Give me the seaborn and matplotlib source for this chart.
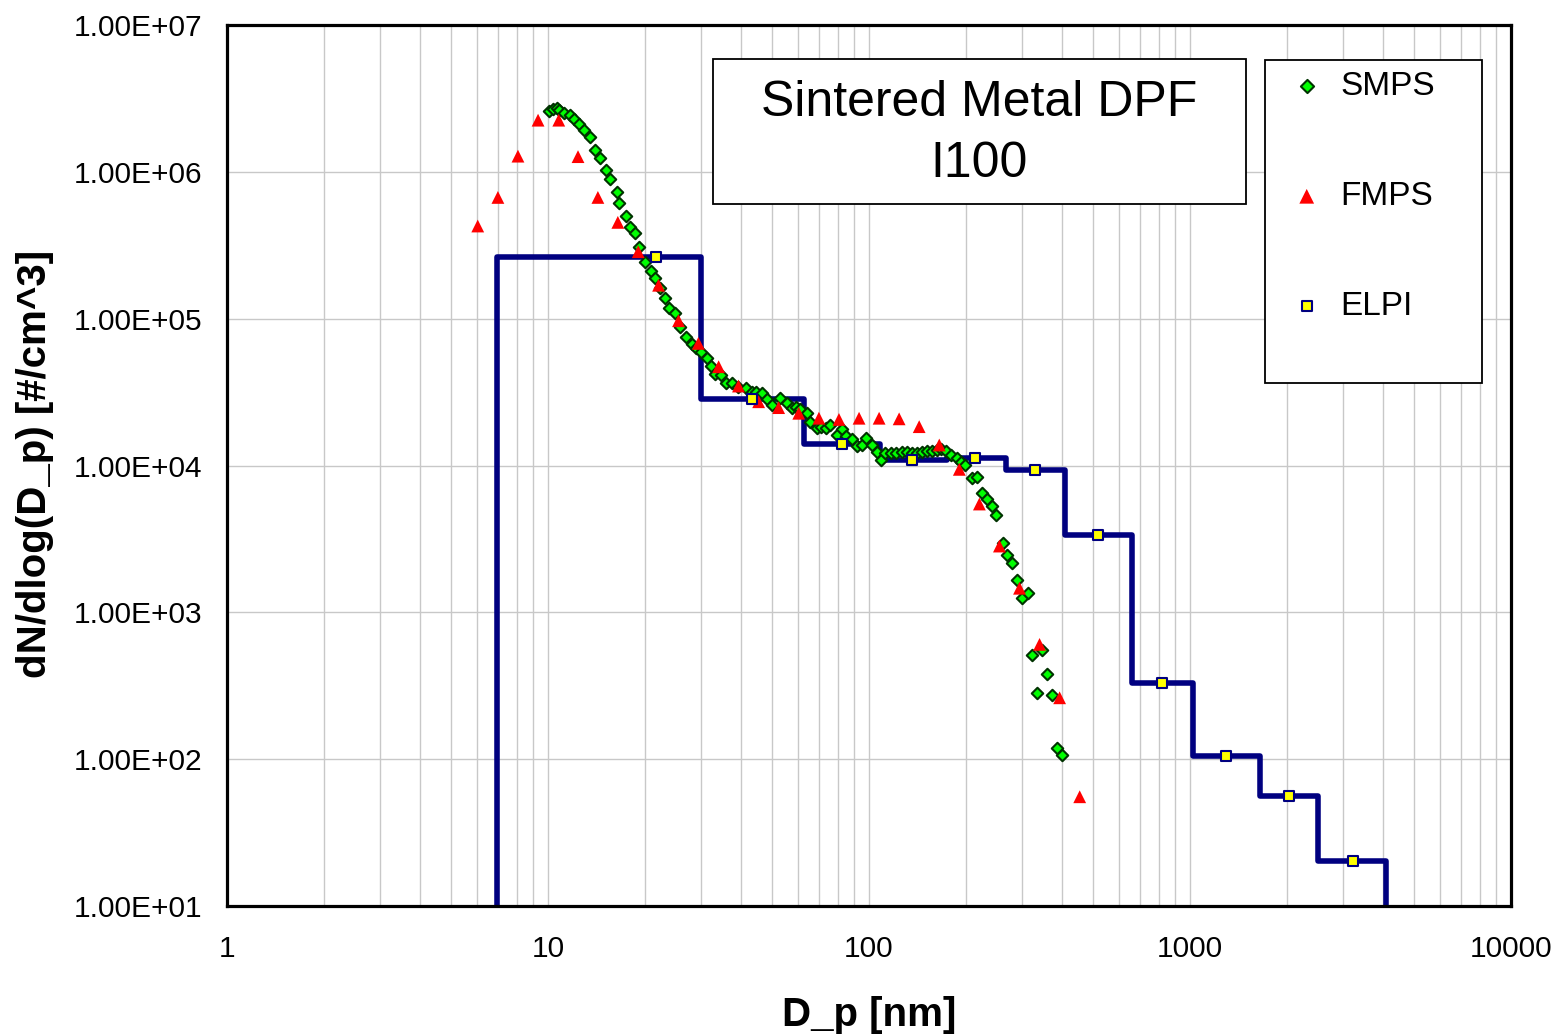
import numpy as np
import pandas as pd
import seaborn as sns
import matplotlib.pyplot as plt
from matplotlib.patches import Rectangle
from matplotlib.ticker import FixedLocator, FuncFormatter, NullFormatter

# SMPS scan (diameter nm, dN/dlogDp)
smps_dp = [10.09, 10.39, 10.64, 10.84, 11.21, 11.71, 12.08, 12.49, 12.98, 13.51,
           14.01, 14.52, 15.13, 15.60, 16.37, 16.64, 17.50, 18.01, 18.71, 19.25,
           20.05, 20.89, 21.54, 22.33, 23.14, 23.87, 24.86, 25.77, 26.91, 28.04,
           28.92, 29.98, 31.22, 32.13, 33.13, 34.51, 35.85, 37.35, 39.16, 41.39,
           43.12, 44.46, 46.31, 48.01, 49.77, 52.81, 55.40, 57.43, 59.24, 60.95,
           63.95, 65.49, 68.72, 70.87, 73.46, 75.60, 79.32, 82.22, 84.78, 88.33,
           91.56, 94.91, 97.66, 101.9, 105.7, 109.0, 112.1, 116.8, 121.4, 126.5,
           131.1, 135.8, 140.8, 145.9, 151.2, 156.8, 162.5, 167.6, 173.8, 180.1,
           187.6, 193.5, 199.1, 208.9, 216.5, 224.4, 232.6, 241.1, 248.2, 260.9,
           268.5, 278.3, 288.5, 299.1, 313.6, 321.3, 334.4, 345.1, 357.7, 370.8,
           385.2, 399.2]
smps_conc = [2.61e6, 2.68e6, 2.71e6, 2.64e6, 2.53e6, 2.44e6, 2.29e6, 2.11e6, 1.93e6, 1.72e6,
             1.42e6, 1.24e6, 1.03e6, 8.89e5, 7.32e5, 6.16e5, 5.00e5, 4.19e5, 3.81e5, 3.09e5,
             2.44e5, 2.11e5, 1.88e5, 1.61e5, 1.38e5, 1.18e5, 1.10e5, 8.73e4, 7.46e4, 6.72e4,
             6.31e4, 5.96e4, 5.37e4, 4.76e4, 4.20e4, 4.13e4, 3.66e4, 3.66e4, 3.44e4, 3.36e4,
             3.18e4, 3.17e4, 3.10e4, 2.82e4, 2.58e4, 2.87e4, 2.68e4, 2.45e4, 2.50e4, 2.41e4,
             2.27e4, 1.99e4, 1.79e4, 1.83e4, 1.79e4, 1.89e4, 1.61e4, 1.76e4, 1.59e4, 1.51e4,
             1.36e4, 1.39e4, 1.53e4, 1.39e4, 1.24e4, 1.09e4, 1.22e4, 1.21e4, 1.22e4, 1.24e4,
             1.24e4, 1.21e4, 1.22e4, 1.24e4, 1.25e4, 1.26e4, 1.28e4, 1.30e4, 1.25e4, 1.18e4,
             1.12e4, 1.06e4, 1.01e4, 8.18e3, 8.39e3, 6.53e3, 5.89e3, 5.30e3, 4.60e3, 2.95e3,
             2.46e3, 2.16e3, 1.66e3, 1.25e3, 1.35e3, 512, 284, 554, 380, 273,
             120, 106]

# FMPS channels
fmps_dp = [6.04, 6.98, 8.06, 9.31, 10.8, 12.4, 14.3, 16.5, 19.1, 22.1, 25.5,
           29.4, 34.0, 39.2, 45.3, 52.3, 60.4, 69.8, 80.6, 93.1, 107.5, 124.1,
           143.3, 165.5, 191.1, 220.7, 254.8, 294.3, 339.8, 392.4, 453.2]
fmps_conc = [4.28e5, 6.70e5, 1.28e6, 2.25e6, 2.25e6, 1.27e6, 6.70e5, 4.53e5, 2.86e5, 1.69e5, 9.69e4,
             6.79e4, 4.71e4, 3.48e4, 2.72e4, 2.48e4, 2.27e4, 2.10e4, 2.06e4, 2.10e4, 2.10e4, 2.08e4,
             1.84e4, 1.38e4, 9.42e3, 5.47e3, 2.83e3, 1.46e3, 605, 262, 55.5]

# ELPI stages
elpi_dp = [21.7, 43.2, 82.4, 136, 214, 329, 517, 818, 1295, 2034, 3221]
elpi_conc = [2.63e5, 2.84e4, 1.40e4, 1.09e4, 1.12e4, 9.31e3, 3.36e3, 330, 105, 56, 20.3]
elpi_edges = [6.94, 30.0, 62.8, 108, 175, 267, 408, 659, 1021, 1652, 2505, 4080]

x_ticks = [1, 10, 100, 1000, 10000]
y_ticks = [1e1, 1e2, 1e3, 1e4, 1e5, 1e6, 1e7]
y_floor = 10

sns.set_style('white')
plt.rcParams['font.family'] = ['Liberation Sans', 'DejaVu Sans']
plt.rcParams['text.color'] = 'black'
plt.rcParams['axes.labelcolor'] = 'black'
plt.rcParams['xtick.color'] = 'black'
plt.rcParams['ytick.color'] = 'black'

fig = plt.figure(figsize=(15.56, 10.35), dpi=100)
ax = fig.add_axes([0.1459, 0.1246, 0.8252, 0.8512])
ax.set_xscale('log')
ax.set_yscale('log')

# ELPI stair line (bin edges down to the floor at both ends)
step_x = np.repeat(elpi_edges, 2)
step_y = np.concatenate([[y_floor], np.repeat(elpi_conc, 2), [y_floor]])
sns.lineplot(x=step_x, y=step_y, sort=False, estimator=None, color='#000080',
             linewidth=4.0, ax=ax, zorder=2)

sns.scatterplot(x=smps_dp, y=smps_conc, marker='D', s=34, color='#00ff00',
                edgecolor='#003300', linewidth=1.5, label='SMPS', ax=ax, zorder=3)
sns.scatterplot(x=fmps_dp, y=fmps_conc, marker='^', s=85, color='#ff0000',
                edgecolor='none', linewidth=0, label='FMPS', ax=ax, zorder=4)
sns.scatterplot(x=elpi_dp, y=elpi_conc, marker='s', s=44, color='#ffff00',
                edgecolor='#000080', linewidth=1.5, label='ELPI', ax=ax, zorder=5)

ax.set_xlim(1, 10000)
ax.set_ylim(10, 1e7)

# minor x grid at 2..9 of each decade
x_minor = [m * 10.0 ** k for k in range(4) for m in range(2, 10)]
ax.xaxis.set_major_locator(FixedLocator(x_ticks))
ax.xaxis.set_minor_locator(FixedLocator(x_minor))
ax.yaxis.set_major_locator(FixedLocator(y_ticks))
ax.yaxis.set_minor_locator(FixedLocator([]))
ax.xaxis.set_major_formatter(FuncFormatter(lambda v, p: f'{v:g}'))
ax.yaxis.set_major_formatter(FuncFormatter(lambda v, p: f'{v:.2E}'))
ax.xaxis.set_minor_formatter(NullFormatter())
ax.yaxis.set_minor_formatter(NullFormatter())

ax.grid(which='major', axis='both', color='#c8c8c8', linewidth=1.0)
ax.grid(which='minor', axis='x', color='#c8c8c8', linewidth=1.0)
ax.set_axisbelow(True)

ax.tick_params(axis='both', which='major', direction='out', length=5, width=1.2,
               color='black', labelsize=21.5)
ax.tick_params(axis='x', which='major', pad=16)
ax.tick_params(axis='y', which='major', pad=13)
ax.tick_params(which='minor', length=0)
for sp in ax.spines.values():
    sp.set_linewidth(2.3)
    sp.set_color('black')

ax.set_xlabel('D_p [nm]', fontsize=29, fontweight='bold', va='center')
ax.xaxis.set_label_coords(0.5, -0.124)
ax.set_ylabel('dN/dlog(D_p) [#/cm^3]', fontsize=29, fontweight='bold', va='center')
ax.yaxis.set_label_coords(-0.1495, 0.5017)

# title box
ax.add_patch(Rectangle((0.3785, 0.7968), 0.4151, 0.1646, transform=ax.transAxes,
                       facecolor='white', edgecolor='black', linewidth=1.3, zorder=6))
ax.text(0.5857, 0.8765, 'Sintered Metal DPF\nI100', transform=ax.transAxes,
        ha='center', va='center', fontsize=36, linespacing=1.42, zorder=7)

# legend box
ax.add_patch(Rectangle((0.8084, 0.5936), 0.1690, 0.3667, transform=ax.transAxes,
                       facecolor='white', edgecolor='black', linewidth=1.3, zorder=6))
leg = ax.legend(loc='upper left', bbox_to_anchor=(0.8279, 0.9478), frameon=False,
                fontsize=24, borderpad=0, borderaxespad=0, handlelength=1.0,
                handletextpad=0.5, labelspacing=2.37, markerscale=1.15)
leg.set_zorder(8)

fig.savefig('out.png', dpi=100)
